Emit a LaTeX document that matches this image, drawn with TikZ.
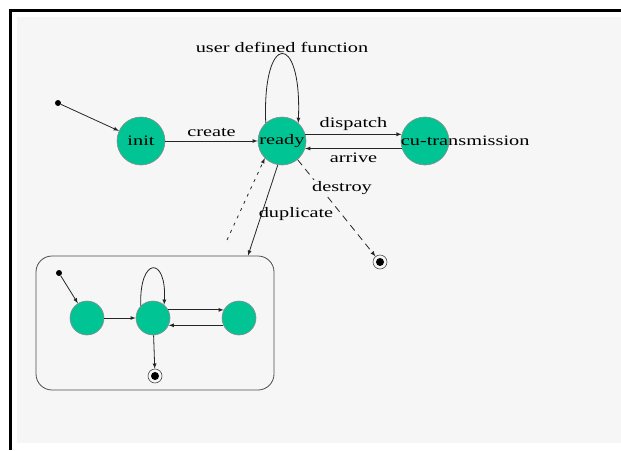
\documentclass[tikz,border=0pt]{standalone}
\usepackage{fontspec}
\newfontfamily\bildSchrift[FakeStretch=1.4]{Liberation Serif}
\usetikzlibrary{arrows}
\definecolor{zustandGruen}{RGB}{0,196,148}
\definecolor{hinterGrund}{RGB}{246,246,246}

\begin{document}
\begin{tikzpicture}[x=1pt,y=-1pt,>=latex,
  zustand/.style={circle,draw=black!45,fill=zustandGruen,line width=0.6pt,
    minimum size=48pt,inner sep=0pt,font=\bildSchrift\fontsize{14.5}{14.5}\selectfont},
  kleinZustand/.style={zustand,minimum size=34pt},
  startPunkt/.style={circle,fill=black,minimum size=6pt,inner sep=0pt},
  endPunkt/.style={circle,draw=black!70,line width=0.6pt,minimum size=14pt,inner sep=0pt,
    path picture={\fill (path picture bounding box.center) circle (4pt);}},
  beschriftung/.style={font=\bildSchrift\fontsize{14.5}{14.5}\selectfont,inner sep=1pt},
  kante/.style={line width=0.8pt,draw=black!85}]
\useasboundingbox (0,0) rectangle (621,450);
\fill[hinterGrund] (17,17) rectangle (621,443);
\draw[line width=3pt] (10,450) -- (10,10) -- (621,10);

% obere Ebene
\node[startPunkt] (start) at (58,103) {};
\node[zustand] (init) at (141,141) {init};
\node[zustand] (ready) at (282,141) {ready};
\node[zustand] (cu) at (425,141) {};
\node[beschriftung,anchor=west,inner sep=0pt] (cuText) at (cu.west) {cu-transmission};
\node[endPunkt] (endeA) at (380,262) {};

% Duplikat-Kasten
\node[draw=black!70,line width=0.8pt,rounded corners=16pt,minimum width=238pt,
  minimum height=134pt] (dup) at (155,323) {};
\coordinate (dupAus) at (227,240);
\node[startPunkt] (start2) at (59,273) {};
\node[kleinZustand] (k1) at (87,318) {};
\node[kleinZustand] (k2) at (153,318) {};
\node[kleinZustand] (k3) at (239,318) {};
\node[endPunkt] (endeB) at (155,376) {};

\draw[kante,->] (start) -- (init);
\draw[kante,->] (init) -- node[beschriftung,above=3pt]{create} (ready);
\draw[kante,->] (ready.132) .. controls (262,31) and (302,31) .. node[beschriftung,above]{user defined function} (ready.48);
\draw[kante,->] (ready.16) -- node[beschriftung,above=2pt]{dispatch} (cu.164);
\draw[kante,->] (cu.198) -- node[beschriftung,below=3pt]{arrive} (ready.-18);
\draw[kante,->,dash pattern=on 7pt off 5pt] (ready.-50) -- (endeA);
\draw[kante,->,dash pattern=on 3pt off 5pt] (dupAus) -- (ready.-135);
\node[beschriftung,fill=hinterGrund] (destroyText) at (342,188) {destroy};
\node[beschriftung,fill=hinterGrund] (dupText) at (296,214) {duplicate};
\draw[kante,->] (ready.-100) -- ([xshift=93pt]dup.north);

% innen
\draw[kante,->] (start2) -- (k1);
\draw[kante,->] (k1) -- (k2);
\draw[kante,->] (k2.135) .. controls (139,256) and (167,256) .. (k2.50);
\draw[kante,->] (k2.28) -- (k3.152);
\draw[kante,->] (k3.-155) -- (k2.-25);
\draw[kante,->] (k2) -- (endeB);
\end{tikzpicture}
\end{document}
